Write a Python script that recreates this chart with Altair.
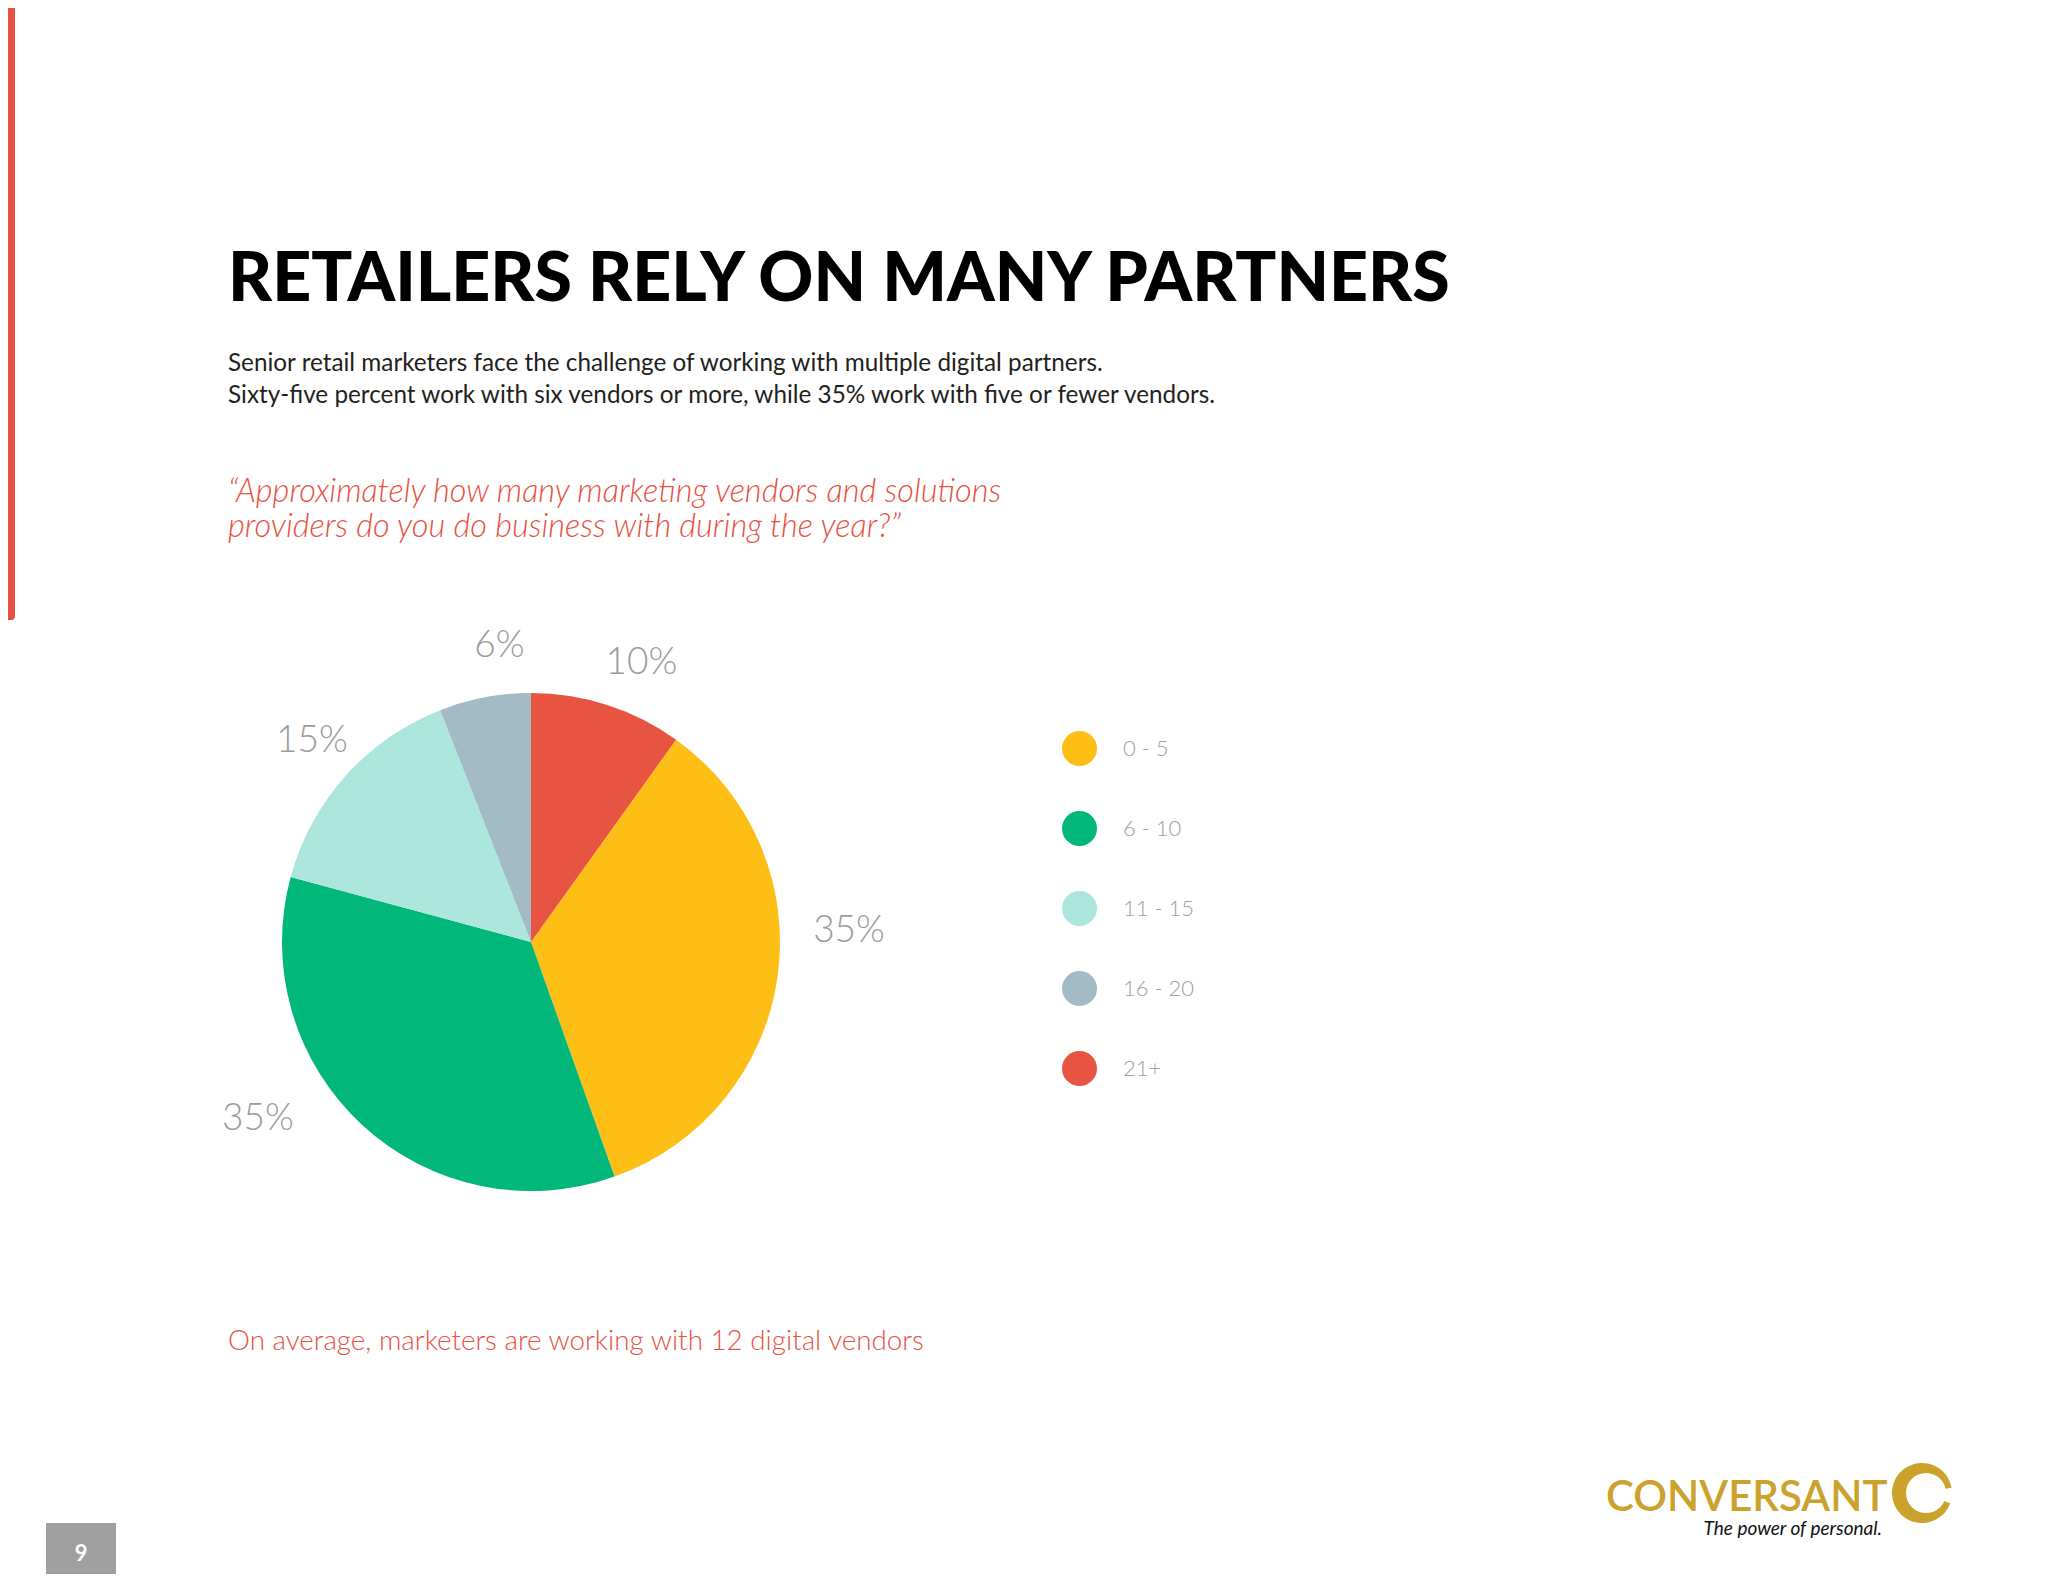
import math
import altair as alt
import pandas as pd

# ---------------- data ----------------
categories = ["0 - 5", "6 - 10", "11 - 15", "16 - 20", "21+"]
values = [35, 35, 15, 6, 10]
pie_order = [1, 2, 3, 4, 0]          # 21+ starts at 12 o'clock, then clockwise
colors = ["#FDBE16", "#02B77A", "#ACE6DD", "#A3BBC6", "#E75441"]

title_text = "RETAILERS RELY ON MANY PARTNERS"
subtitle_lines = [
    "Senior retail marketers face the challenge of working with multiple digital partners.",
    "Sixty-five percent work with six vendors or more, while 35% work with five or fewer vendors.",
]
question_lines = [
    "\u201cApproximately how many marketing vendors and solutions",
    "providers do you do business with during the year?\u201d",
]
footer_text = "On average, marketers are working with 12 digital vendors"
brand_text = "CONVERSANT"
tagline_text = "The power of personal."
page_number = "9"

df = pd.DataFrame({
    "category": categories,
    "value": values,
    "pie_order": pie_order,
    "label": [f"{v}%" for v in values],
})
one = pd.DataFrame({"k": [0]})

# ---------------- layout ----------------
W, H = 2032, 1566
CX, CY = 523, 934
R = 249
LABEL_R = 305
total = sum(values)
TAU = 2 * math.pi
RED = "#E8513F"
GOLD = "#CBA22B"
FONT = "Lato"

theta_scale = alt.Scale(domain=[0, total], range=[0, TAU])


def txt(text, x, y, size, color="#231F20", weight=400, style="normal",
        align="left", baseline="alphabetic", font=FONT):
    return alt.Chart(one).mark_text(
        text=text, fontSize=size, color=color, fontWeight=weight,
        fontStyle=style, align=align, baseline=baseline, font=font,
    ).encode(x=alt.value(x), y=alt.value(y))


layers = []

# left red accent bar
layers.append(
    alt.Chart(one).mark_rect(color="#E8513F", cornerRadiusBottomRight=7).encode(
        x=alt.value(0), x2=alt.value(7), y=alt.value(0), y2=alt.value(612)
    )
)

# title / subtitle / question
layers.append(txt(title_text, 220, 293, 68, color="#000000", weight=900))
for i, line in enumerate(subtitle_lines):
    layers.append(txt(line, 220, 363 + i * 32, 24.3, color="#231F20", weight=400))
for i, line in enumerate(question_lines):
    layers.append(txt(line, 220, 494 + i * 35, 32.5, color=RED, weight=300, style="italic"))

# pie
pie = alt.Chart(df).mark_arc(outerRadius=R, stroke=None).encode(
    theta=alt.Theta("value:Q", stack=True, scale=theta_scale),
    color=alt.Color(
        "category:N",
        scale=alt.Scale(domain=categories, range=colors),
        legend=alt.Legend(
            orient="none", legendX=1054, legendY=723, title=None,
            symbolType="circle", symbolSize=1225, symbolStrokeWidth=0,
            symbolOpacity=1, labelFont=FONT, labelFontSize=22,
            labelFontWeight=300, labelColor="#9E9E9E", labelOffset=26,
            rowPadding=45, padding=0, labelLimit=300,
        ),
    ),
    order=alt.Order("pie_order:Q"),
    x=alt.value(CX),
    y=alt.value(CY),
)
layers.append(pie)

# slice labels (placed at slice middle, with small nudges like the original)
nudges = {
    "21+": (17, 11),
    "0 - 5": (16, -54),
    "6 - 10": (-66, -47),
    "11 - 15": (8, 3),
    "16 - 20": (25, 4),
}
label_base = alt.Chart(df).transform_window(
    cum="sum(value)", sort=[alt.SortField("pie_order")], frame=[None, 0]
).transform_calculate(mid="datum.cum - datum.value / 2")
for cat in categories:
    ndx, ndy = nudges[cat]
    layers.append(
        label_base.transform_filter(alt.datum.category == cat).mark_text(
            radius=LABEL_R, dx=ndx, dy=ndy, fontSize=37, font=FONT,
            fontWeight=300, color="#9B9B9B", align="center", baseline="middle",
        ).encode(
            theta=alt.Theta("mid:Q", scale=theta_scale),
            text="label:N",
            x=alt.value(CX),
            y=alt.value(CY),
        )
    )

# footer note
layers.append(txt(footer_text, 220, 1342, 27.8, color=RED, weight=300))

# logo
layers.append(txt(brand_text, 1598, 1503, 42, color=GOLD, weight=600))
layers.append(txt(tagline_text, 1874, 1527, 19, color="#111111", weight=400,
                  style="italic", align="right"))
layers.append(
    alt.Chart(one).mark_arc(color=GOLD).encode(
        theta=alt.value(1.92), theta2=alt.value(7.68),
        radius=alt.value(30), radius2=alt.value(0),
        x=alt.value(1914), y=alt.value(1485),
    )
)
layers.append(
    alt.Chart(one).mark_circle(color="#FFFFFF", opacity=1, size=1600).encode(
        x=alt.value(1918), y=alt.value(1485)
    )
)

# page number box
layers.append(
    alt.Chart(one).mark_rect(color="#A0A0A0").encode(
        x=alt.value(38), x2=alt.value(108), y=alt.value(1515), y2=alt.value(1566)
    )
)
layers.append(txt(page_number, 73, 1546, 22, color="#FFFFFF", weight=700,
                  align="center", baseline="middle"))

chart = alt.layer(*layers).properties(
    width=W, height=H, padding=0, autosize="none", background="#FFFFFF"
).configure_view(stroke=None)

chart.save("out.html", embed_options={"renderer": "svg", "actions": False})
